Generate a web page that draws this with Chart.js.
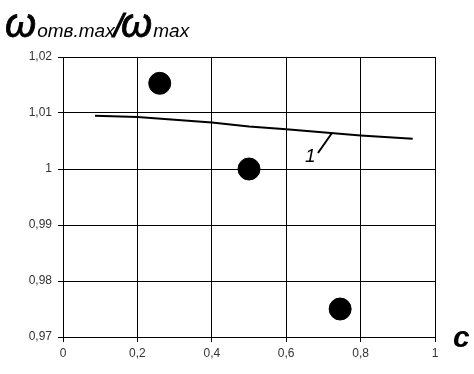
<!DOCTYPE html>
<html>
<head>
<meta charset="utf-8">
<script src="https://cdn.jsdelivr.net/npm/chart.js@4"></script>
<style>
html,body{margin:0;padding:0;background:#fff;}
#wrap{width:474px;height:374px;position:relative;}
</style>
</head>
<body>
<div id="wrap"><canvas id="c" width="474" height="374"></canvas></div>
<script>
// ---- data ----
const curveX = [0.086, 0.2, 0.4, 0.5, 0.6, 0.8, 0.94];
const curveY = [1.0095, 1.0093, 1.0083, 1.0076, 1.0071, 1.0060, 1.0054];
const dotsX = [0.26, 0.5, 0.745];
const dotsY = [1.0153, 1.0, 0.975];
const xTicks = [0, 0.2, 0.4, 0.6, 0.8, 1];
const xTickLabels = ['0', '0,2', '0,4', '0,6', '0,8', '1'];
const yTicks = [0.97, 0.98, 0.99, 1, 1.01, 1.02];
const yTickLabels = ['0,97', '0,98', '0,99', '1', '1,01', '1,02'];
const curveLabel = '1';
const curveLabelAtX = 0.723;
const yTitleMain = 'ω';
const yTitleSub1 = 'отв.max';
const yTitleSub2 = 'max';
const xTitle = 'c';

const curveData = curveX.map((x, i) => ({x: x, y: curveY[i]}));
const dotsData = dotsX.map((x, i) => ({x: x, y: dotsY[i]}));

function interpCurve(x) {
  for (let i = 0; i < curveX.length - 1; i++) {
    if (x >= curveX[i] && x <= curveX[i + 1]) {
      const t = (x - curveX[i]) / (curveX[i + 1] - curveX[i]);
      return curveY[i] + t * (curveY[i + 1] - curveY[i]);
    }
  }
  return curveY[curveY.length - 1];
}

const decor = {
  id: 'decor',
  afterDraw(chart) {
    const ctx = chart.ctx;
    const xs = chart.scales.x, ys = chart.scales.y;
    ctx.save();
    ctx.fillStyle = '#000';
    ctx.strokeStyle = '#000';
    ctx.textBaseline = 'alphabetic';
    ctx.textAlign = 'left';
    // y title
    let x = 5;
    const base = 37;
    ctx.font = 'italic 40px "Liberation Sans", Arial, sans-serif';
    ctx.lineWidth = 0.8;
    ctx.fillText(yTitleMain, x, base);
    ctx.strokeText(yTitleMain, x, base);
    x += ctx.measureText(yTitleMain).width + 1;
    ctx.font = 'italic 19px "Liberation Sans", Arial, sans-serif';
    ctx.fillText(yTitleSub1, x, base);
    x += ctx.measureText(yTitleSub1).width - 1;
    ctx.font = 'italic 34px "Liberation Sans", Arial, sans-serif';
    ctx.fillText('/', x, base);
    ctx.strokeText('/', x, base);
    x += ctx.measureText('/').width - 2;
    ctx.font = 'italic 40px "Liberation Sans", Arial, sans-serif';
    ctx.fillText(yTitleMain, x, base);
    ctx.strokeText(yTitleMain, x, base);
    x += ctx.measureText(yTitleMain).width + 1;
    ctx.font = 'italic 19px "Liberation Sans", Arial, sans-serif';
    ctx.fillText(yTitleSub2, x, base);
    // x title
    ctx.font = 'bold italic 30px "Liberation Sans", Arial, sans-serif';
    ctx.fillText(xTitle, xs.right + 18, ys.bottom + 10);
    // curve label with leader
    const ax = xs.getPixelForValue(curveLabelAtX);
    const ay = ys.getPixelForValue(interpCurve(curveLabelAtX));
    ctx.lineWidth = 2;
    ctx.beginPath();
    ctx.moveTo(ax, ay);
    ctx.lineTo(ax - 14, ay + 20);
    ctx.stroke();
    ctx.font = 'italic 19px "Liberation Sans", Arial, sans-serif';
    ctx.fillText(curveLabel, ax - 27, ay + 29);
    ctx.restore();
  }
};

new Chart(document.getElementById('c'), {
  type: 'scatter',
  data: {
    datasets: [
      {data: curveData, showLine: true, borderColor: '#000', borderWidth: 2, pointRadius: 0, fill: false, tension: 0},
      {data: dotsData, showLine: false, backgroundColor: '#000', borderColor: '#000', pointRadius: 11, pointHoverRadius: 11}
    ]
  },
  options: {
    responsive: false,
    animation: false,
    events: [],
    layout: {padding: {top: 57, right: 39, left: 0, bottom: 0}},
    plugins: {legend: {display: false}, tooltip: {enabled: false}, title: {display: false}},
    scales: {
      x: {
        type: 'linear', min: 0, max: 1,
        afterBuildTicks(s) { s.ticks = xTicks.map(v => ({value: v})); },
        afterFit(s) { s.height = 37; },
        ticks: {
          callback: (v) => { const i = xTicks.findIndex(t => Math.abs(t - v) < 1e-9); return i >= 0 ? xTickLabels[i] : ''; },
          color: '#333', font: {family: '"Liberation Sans", Arial, sans-serif', size: 12}, padding: 4, maxRotation: 0
        },
        grid: {color: '#000', lineWidth: 1, tickLength: 5, drawTicks: true},
        border: {display: true, color: '#000', width: 1}
      },
      y: {
        type: 'linear', min: 0.97, max: 1.02,
        afterBuildTicks(s) { s.ticks = yTicks.map(v => ({value: v})); },
        afterFit(s) { s.width = 63; },
        ticks: {
          callback: (v) => { const i = yTicks.findIndex(t => Math.abs(t - v) < 1e-9); return i >= 0 ? yTickLabels[i] : ''; },
          color: '#333', font: {family: '"Liberation Sans", Arial, sans-serif', size: 12}, padding: 6
        },
        grid: {color: '#000', lineWidth: 1, tickLength: 5, drawTicks: true},
        border: {display: true, color: '#000', width: 1}
      }
    }
  },
  plugins: [decor]
});
</script>
</body>
</html>
